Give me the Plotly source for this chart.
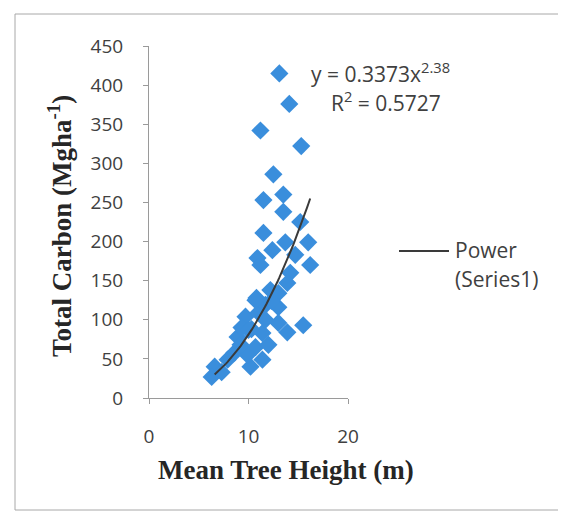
import numpy as np
import plotly.graph_objects as go

tree_height = [13.1, 14.1, 11.2, 15.3, 12.5, 11.5, 13.5, 13.5, 15.2, 11.5,
               13.7, 16.0, 10.9, 11.2, 14.2, 16.2, 13.9, 12.2, 13.0, 9.7,
               11.0, 13.0, 8.9, 11.4, 13.0, 13.9, 15.5, 8.6, 10.7, 11.4,
               10.2, 7.9, 6.6, 6.3, 7.3, 12.4, 14.7, 11.7, 12.0, 9.3,
               10.3, 12.3, 9.9, 10.8, 10.0, 11.7, 10.7, 9.2]
total_carbon = [415, 376, 342, 322, 286, 253, 260, 238, 225, 211,
                199, 199, 179, 170, 160, 170, 147, 138, 134, 104,
                109, 116, 78, 83, 96, 84, 93, 58, 65, 49,
                40, 49, 40, 27, 33, 189, 183, 119, 68, 90,
                88, 124, 55, 128, 87, 100, 125, 68]

# Power trendline coefficients (shown on chart)
coef_a = 0.3373
coef_b = 2.38
trend_x_range = [6.6, 16.2]

x_ticks = [0, 10, 20]
y_ticks = [0, 50, 100, 150, 200, 250, 300, 350, 400, 450]

tx = np.linspace(trend_x_range[0], trend_x_range[1], 60)
ty = coef_a * tx ** coef_b

fig = go.Figure()
fig.add_trace(go.Scatter(
    x=tree_height, y=total_carbon, mode="markers",
    marker=dict(symbol="diamond", size=14, color="#3a8edc", line=dict(width=0)),
    showlegend=False, name="Series1"))
fig.add_trace(go.Scatter(
    x=tx, y=ty, mode="lines", line=dict(color="#3a3a3a", width=2),
    name="Power (Series1)", showlegend=False))

tick_font = dict(family="Open Sans, sans-serif", size=19, color="#404040")
title_font = dict(family="Liberation Serif, Times New Roman, serif", size=27, color="#262626")
text_font = dict(family="Open Sans, sans-serif", size=21, color="#404040")

fig.update_xaxes(range=[0, 20], tickvals=x_ticks, showline=True, linecolor="#9a9a9a",
                 linewidth=1, ticks="outside", ticklen=5, tickcolor="#9a9a9a",
                 showgrid=False, zeroline=False, tickfont=tick_font,
                 ticklabelstandoff=16, automargin=False)
fig.update_yaxes(range=[0, 450], tickvals=y_ticks, showline=True, linecolor="#9a9a9a",
                 linewidth=1, ticks="outside", ticklen=5, tickcolor="#9a9a9a",
                 showgrid=False, zeroline=False, tickfont=tick_font,
                 ticklabelstandoff=16, automargin=False)

# helpers: screen pixel -> paper coordinates (plot area spans x 149..348, y 398..46 on screen)
def px(x):
    return (x - 149) / 199

def py(y):
    return (398 - y) / 352

# axis titles
fig.add_annotation(xref="paper", yref="paper", x=px(286), y=py(470),
                   xanchor="center", yanchor="middle", showarrow=False,
                   text="<b>Mean Tree Height (m)</b>", font=title_font)
fig.add_annotation(xref="paper", yref="paper", x=px(60), y=py(226),
                   xanchor="center", yanchor="middle", showarrow=False, textangle=-90,
                   text="<b>Total Carbon (Mgha<sup>-1</sup>)</b>", font=title_font)

# trendline equation
fig.add_annotation(xref="paper", yref="paper", x=px(309), y=py(72),
                   xanchor="left", yanchor="middle", showarrow=False,
                   text="y = 0.3373x<sup>2.38</sup>", font=text_font)
fig.add_annotation(xref="paper", yref="paper", x=px(329), y=py(102),
                   xanchor="left", yanchor="middle", showarrow=False,
                   text="R<sup>2</sup> = 0.5727", font=text_font)

# legend (manual)
fig.add_shape(type="line", xref="paper", yref="paper",
              x0=px(399), x1=px(449), y0=py(251), y1=py(251),
              line=dict(color="#3a3a3a", width=2))
fig.add_annotation(xref="paper", yref="paper", x=px(453), y=py(250),
                   xanchor="left", yanchor="middle", showarrow=False,
                   text="Power", font=text_font)
fig.add_annotation(xref="paper", yref="paper", x=px(453), y=py(279),
                   xanchor="left", yanchor="middle", showarrow=False,
                   text="(Series1)", font=text_font)

# outer frame
fig.add_shape(type="rect", xref="paper", yref="paper",
              x0=px(15), x1=px(562), y0=py(510), y1=py(14),
              line=dict(color="#a8a8a8", width=1), fillcolor="rgba(0,0,0,0)", layer="below")

# page body has an 8px margin, so the figure is 8px smaller and offsets are reduced by 8
fig.update_layout(
    width=558, height=508,
    margin=dict(l=141, r=218, t=38, b=118, autoexpand=False),
    plot_bgcolor="white", paper_bgcolor="white",
    showlegend=False,
)

fig.write_html("out.html")
